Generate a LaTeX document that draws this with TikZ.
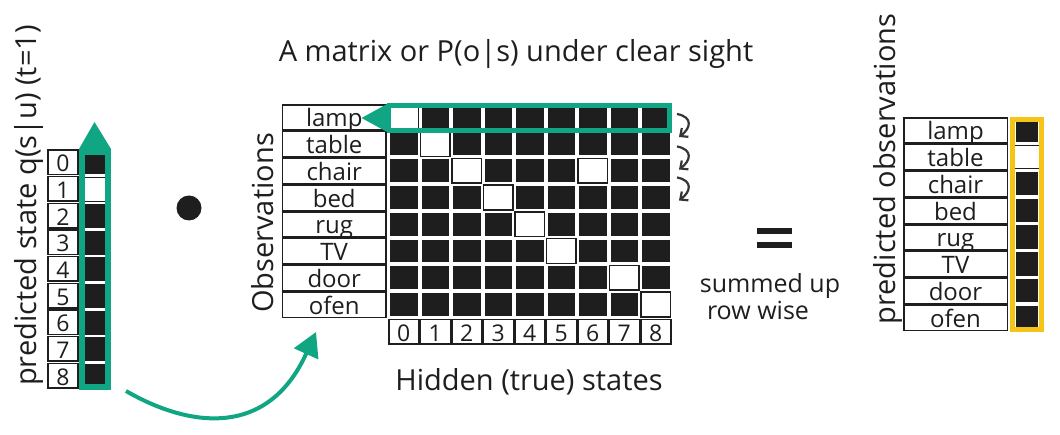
\documentclass[tikz,border=0pt]{standalone}
\usepackage{fontspec}
\setmainfont{Open Sans}
\usetikzlibrary{arrows.meta,positioning}
\definecolor{ink}{HTML}{1E1E1E}
\definecolor{seegreen}{HTML}{10A683}
\definecolor{sumyellow}{HTML}{F6C416}

\begin{document}
\begin{tikzpicture}[x=1pt,y=-1pt,
    every node/.style={inner sep=0pt,text=ink},
    namecell/.style={draw=ink,line width=1.5pt,fill=white,minimum width=103.5pt,minimum height=25.25pt,
      text height=19pt,text depth=0pt,font=\fontsize{24}{24}\selectfont},
    numcell/.style={draw=ink,line width=1.5pt,fill=white,minimum width=30pt,minimum height=24.5pt,
      text height=19pt,text depth=0pt,font=\fontsize{23}{23}\selectfont},
    bigtext/.style={font=\fontsize{29}{29}\selectfont,anchor=base},
    sidetext/.style={bigtext,rotate=90},
    smalltext/.style={font=\fontsize{25}{25}\selectfont,anchor=base},
    rowturn/.style={draw=ink!90,line width=2.2pt,-{Straight Barb[length=6pt,width=11pt]}},
    hop/.style={draw=seegreen,line width=4pt,-{Triangle[length=24pt,width=26pt]}}]
    \useasboundingbox (0,0) rectangle (1060,435);
    \node[bigtext] (title) at (516,62) {A matrix or P(o|s) under clear sight};
    % predicted state
    \foreach \i in {0,...,8}
      \node[numcell] (st\i) at (63,{162.3+26.67*\i}) {\i};
    \foreach \i in {0,2,3,4,5,6,7,8}
      \fill[ink] (85,{150.5+26.67*\i}) rectangle (105,{174.5+26.67*\i});
    \draw[ink,line width=1pt] (85,177.2) -- (105,177.2) (85,201.2) -- (105,201.2);
    \draw[seegreen,line width=6pt] (82,152) rectangle (108,387);
    \fill[seegreen] (79,149) -- (94.5,122) -- (111,149) -- cycle;
    \node[sidetext] (qlabel) at (36.7,205.5) {predicted state q(s|u) (t=1)};
    \node[circle,fill=ink,minimum size=25pt] (dot) at (189,208) {};
    % observation matrix
    \foreach \lbl [count=\i from 0] in {lamp,table,chair,bed,rug,TV,door,ofen}
      \node[namecell] (obs\i) at (334.25,{117.4+26.75*\i}) {\lbl};
    \foreach \r in {0,...,7}
      \foreach \c in {0,...,8}
        \fill[ink] ({390+31.5*\c},{106+26.75*\r}) rectangle ({417.5+31.5*\c},{128.75+26.75*\r});
    \foreach \r/\c in {0/0,1/1,2/2,2/6,3/3,4/4,5/5,6/7,7/8}
      \draw[ink,line width=1.5pt,fill=white] ({389+31.5*\c},{105+26.75*\r}) rectangle ({418.5+31.5*\c},{129.75+26.75*\r});
    \foreach \c in {0,...,8}
      \node[numcell] (hid\c) at ({403.75+31.5*\c},332) {\c};
    \draw[seegreen,line width=4.6pt] (389,105.3) rectangle (669.7,130.4);
    \fill[seegreen] (389,103) -- (361.5,118) -- (389,133) -- cycle;
    \foreach \ya/\yb in {114/137,146.5/169.5,177.5/200.5}
      \draw[rowturn] (677,\ya) .. controls (693,\ya+3) and (691,\yb-9) .. (679,\yb);
    \node[sidetext] (obslabel) at (273,223) {Observations};
    \node[bigtext] (hidlabel) at (529,391) {Hidden (true) states};
    % result
    \fill[ink] (757,228) rectangle (792,234);
    \fill[ink] (757,242) rectangle (792,248);
    \node[smalltext] (summed) at (770,293) {summed up};
    \node[smalltext] (rowwise) at (758,320) {row wise};
    \foreach \lbl [count=\i from 0] in {lamp,table,chair,bed,rug,TV,door,ofen}
      \node[namecell] (pred\i) at (955.5,{130.4+26.75*\i}) {\lbl};
    \foreach \i in {0,2,3,4,5,6,7}
      \fill[ink] (1016,{118.5+26.75*\i}) rectangle (1038,{142+26.75*\i});
    \draw[ink,line width=1pt] (1015,145.25) -- (1039,145.25) (1015,168.75) -- (1039,168.75);
    \draw[sumyellow,line width=5pt] (1012.5,119.5) rectangle (1041.5,329.5);
    \node[sidetext] (predlabel) at (895,169) {predicted observations};
    \coordinate (hopstart) at (126,391);
    \coordinate (hopend) at (316,332);
    \draw[hop] (hopstart) .. controls (190,428) and (268,438) .. (hopend);
\end{tikzpicture}
\end{document}
